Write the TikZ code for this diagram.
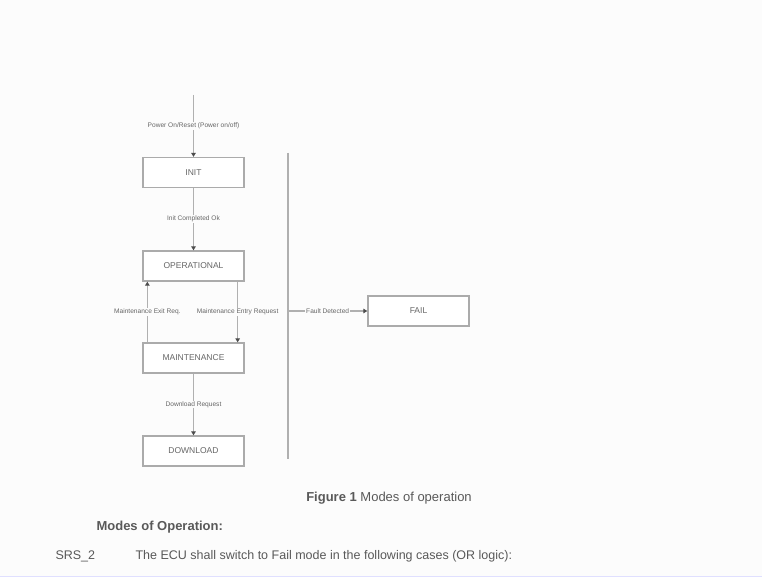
\documentclass[tikz,border=0pt]{standalone}
\usepackage{fontspec}
\setmainfont{Liberation Sans}
\usetikzlibrary{arrows.meta}
\definecolor{bg}{HTML}{FCFCFC}
\definecolor{ln}{HTML}{B0B0B0}
\definecolor{bx}{HTML}{ABABAB}
\definecolor{txt}{HTML}{666666}
\tikzset{
  modebox/.style={draw=bx, line width=1.3pt, fill=white, minimum width=101pt, minimum height=30pt, inner sep=0pt, font=\fontsize{8.5}{9}\selectfont, text=txt},
  conn/.style={draw=ln, line width=1.2pt, -{Triangle[length=4pt,width=4.5pt,fill=black!70,color=black!70]}},
  lbl/.style={fill=bg, inner sep=0.8pt, font=\fontsize{6.6}{7}\selectfont, text=txt}
}
\begin{document}
\begin{tikzpicture}[x=1pt,y=-1pt]
\fill[bg] (0,0) rectangle (762,577);
\useasboundingbox (0,0) rectangle (762,577);
\node[modebox] (init) at (193.5,172.5) {INIT};
\node[modebox] (oper) at (193.5,266) {OPERATIONAL};
\node[modebox] (maint) at (193.5,358) {MAINTENANCE};
\node[modebox] (down) at (193.5,451) {DOWNLOAD};
\node[modebox] (fail) at (418.5,311) {FAIL};
\coordinate (start) at (193.5,95);
\coordinate (brtop) at (288,153);
\coordinate (brbot) at (288,459);
\coordinate (brmid) at (288,311);
\draw[conn] (start) -- node[lbl]{Power On/Reset (Power on/off)} (init.north);
\draw[conn] (init.south) -- node[lbl]{Init Completed Ok} (oper.north);
\draw[conn] (maint.north west) ++(5,0) coordinate (ml) -- node[lbl, pos=0.5]{Maintenance Exit Req.} (ml |- oper.south);
\draw[conn] (oper.south east) ++(-7,0) coordinate (or) -- node[lbl, pos=0.5]{Maintenance Entry Request} (or |- maint.north);
\draw[conn] (maint.south) -- node[lbl]{Download Request} (down.north);
\draw[draw=ln, line width=1.5pt] (brtop) -- (brbot);
\draw[conn] (brmid) -- node[lbl]{Fault Detected} (fail.west);
\node[font=\fontsize{13}{15}\selectfont, text=black!65] (cap) at (389,498) {\textbf{Figure 1} Modes of operation};
\node[font=\bfseries\fontsize{13}{15}\selectfont, text=black!65, anchor=west] (hd) at (93,527) {Modes of Operation:};
\node[font=\fontsize{12.5}{15}\selectfont, text=black!65, anchor=west] (srs) at (52,556) {SRS\_2};
\node[font=\fontsize{12.5}{15}\selectfont, text=black!65, anchor=west] (srst) at (132,556) {The ECU shall switch to Fail mode in the following cases (OR logic):};
\draw[draw=blue!12, line width=1pt] (0,576) -- (762,576);
\end{tikzpicture}
\end{document}
